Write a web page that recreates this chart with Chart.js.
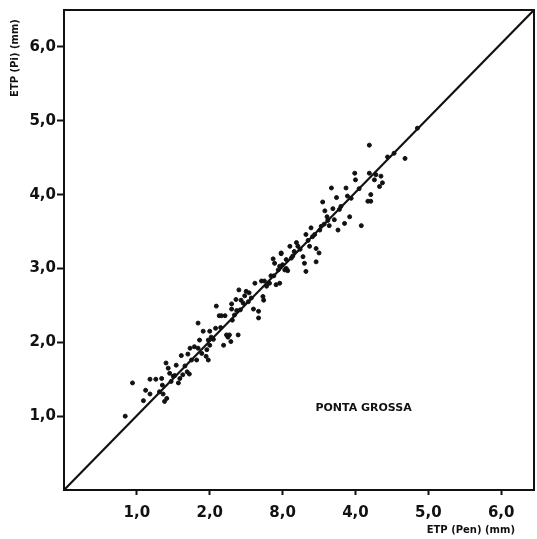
<!DOCTYPE html>
<html>
<head>
<meta charset="utf-8">
<script src="https://cdn.jsdelivr.net/npm/chart.js@4.4.1/dist/chart.umd.min.js"></script>
<style>
  html, body { margin: 0; padding: 0; background: #fff; }
  #wrap { width: 537px; height: 539px; }
</style>
</head>
<body>
<div id="wrap"><canvas id="chart" width="537" height="539"></canvas></div>
<script>
// ETP (Penman) vs ETP (Pi), Ponta Grossa
const etpPen = [
  0.84, 0.94, 1.09, 1.12, 1.18, 1.18, 1.26, 1.34, 1.35, 1.36, 1.38, 1.41, 1.40, 1.43, 1.45,
  1.47, 1.50, 1.54, 1.57, 1.61, 1.59, 1.63, 1.69, 1.70, 1.72, 1.73, 1.75, 1.79, 1.82, 1.84,
  1.84, 1.86, 1.89, 1.91, 1.95, 1.96, 1.98, 1.98, 2.00, 2.00, 2.02, 2.08, 2.09, 2.13, 2.15,
  2.16, 2.19, 2.21, 2.23, 2.25, 2.27, 2.29, 2.30, 2.30, 2.31, 2.34, 2.36, 2.37, 2.39, 2.40,
  2.43, 2.46, 2.48, 2.50, 2.54, 2.57, 2.60, 2.62, 2.67, 2.67, 2.71, 2.73, 2.74, 2.78, 2.82,
  2.84, 2.87, 2.89, 2.91, 2.94, 2.96, 2.98, 3.00, 3.03, 3.05, 3.07, 3.16, 2.75, 2.96, 2.98,
  3.05, 3.10, 3.12, 3.19, 3.21, 3.28, 3.30, 3.32, 3.32, 3.37, 3.39, 3.41, 3.46, 3.46, 3.50,
  3.51, 3.53, 3.55, 3.58, 3.61, 3.64, 3.67, 3.69, 3.71, 3.74, 3.76, 3.80, 3.85, 3.87, 3.89,
  3.92, 3.94, 3.99, 4.00, 4.08, 4.17, 4.19, 4.21, 4.21, 4.19, 4.26, 4.28, 4.33, 4.35, 4.37,
  4.44, 4.53, 4.68, 4.85,
  1.31, 1.52, 1.66, 2.05, 2.42, 2.53, 2.88, 3.14, 3.24, 3.35, 3.44, 3.57, 3.62, 3.78, 4.05,
];
const etpPi = [
  1.00, 1.45, 1.21, 1.35, 1.30, 1.50, 1.50, 1.51, 1.42, 1.30, 1.20, 1.24, 1.72, 1.65, 1.58,
  1.47, 1.54, 1.69, 1.45, 1.82, 1.51, 1.56, 1.60, 1.84, 1.57, 1.92, 1.76, 1.94, 1.76, 2.26,
  1.92, 2.03, 1.85, 2.15, 1.81, 1.90, 2.03, 1.76, 1.96, 2.15, 2.07, 2.19, 2.49, 2.36, 2.20,
  2.36, 1.96, 2.36, 2.10, 2.07, 2.10, 2.01, 2.45, 2.52, 2.30, 2.37, 2.58, 2.43, 2.10, 2.71,
  2.57, 2.53, 2.63, 2.69, 2.67, 2.60, 2.45, 2.80, 2.42, 2.33, 2.83, 2.62, 2.57, 2.76, 2.80,
  2.90, 3.13, 3.07, 2.78, 2.98, 2.80, 3.20, 3.05, 2.98, 3.12, 2.97, 3.23, 2.83, 3.03, 3.21,
  3.00, 3.30, 3.14, 3.35, 3.30, 3.16, 3.07, 2.96, 3.46, 3.30, 3.55, 3.43, 3.27, 3.09, 3.21,
  3.52, 3.57, 3.90, 3.78, 3.70, 3.58, 4.09, 3.81, 3.66, 3.96, 3.52, 3.84, 3.61, 4.09, 3.98,
  3.70, 3.95, 4.29, 4.20, 3.58, 3.91, 4.29, 4.00, 3.91, 4.67, 4.20, 4.27, 4.11, 4.25, 4.16,
  4.51, 4.56, 4.49, 4.90,
  1.33, 1.55, 1.68, 2.04, 2.44, 2.55, 2.90, 3.17, 3.26, 3.38, 3.46, 3.60, 3.65, 3.80, 4.08,
];

// 1:1 reference line, drawn corner to corner
const lineX = [0, 6.45];
const lineY = [0, 6.5];

const tickValues = [1, 2, 3, 4, 5, 6];
const xTickLabels = ["1,0", "2,0", "8,0", "4,0", "5,0", "6,0"];
const yTickLabels = ["1,0", "2,0", "3,0", "4,0", "5,0", "6,0"];

const INK = "#111";
const tickFont = { family: "DejaVu Sans", weight: "bold", size: 15 };

const points = etpPen.map((x, i) => ({ x, y: etpPi[i] }));
const diag = lineX.map((x, i) => ({ x, y: lineY[i] }));

// frame + axis titles + station name
const decor = {
  id: "decor",
  afterDatasetsDraw(chart) {
    const { ctx, chartArea: a, scales } = chart;
    ctx.save();
    ctx.strokeStyle = INK;
    ctx.lineWidth = 2;
    ctx.strokeRect(a.left, a.top, a.right - a.left, a.bottom - a.top);

    ctx.fillStyle = INK;
    ctx.font = "bold 10px 'DejaVu Sans'";
    ctx.textBaseline = "middle";
    ctx.textAlign = "right";
    ctx.fillText("ETP (Pen) (mm)", 515, 530);

    ctx.save();
    ctx.translate(15, 58);
    ctx.rotate(-Math.PI / 2);
    ctx.textAlign = "center";
    ctx.fillText("ETP (Pi) (mm)", 0, 0);
    ctx.restore();

    ctx.font = "bold 11px 'DejaVu Sans'";
    ctx.textAlign = "left";
    ctx.fillText("PONTA GROSSA", scales.x.getPixelForValue(3.45), scales.y.getPixelForValue(1.11));
    ctx.restore();
  },
};

new Chart(document.getElementById("chart"), {
  type: "scatter",
  data: {
    datasets: [
      { data: points, backgroundColor: INK, borderColor: INK, pointRadius: 2, pointHoverRadius: 2 },
      { type: "line", data: diag, borderColor: INK, borderWidth: 2.2, pointRadius: 0, fill: false },
    ],
  },
  options: {
    responsive: false,
    animation: false,
    layout: { padding: { top: 10, right: 2, left: 0, bottom: 0 } },
    plugins: { legend: { display: false }, tooltip: { enabled: false } },
    scales: {
      x: {
        type: "linear", min: 0, max: 6.45,
        afterBuildTicks: (s) => { s.ticks = tickValues.map((v) => ({ value: v })); },
        afterFit: (s) => { s.height = 49; },
        grid: { drawOnChartArea: false, drawTicks: true, tickLength: 5, tickColor: INK, tickWidth: 2 },
        border: { display: false },
        ticks: { color: INK, font: tickFont, padding: 9, maxRotation: 0,
                 callback: (v) => xTickLabels[tickValues.indexOf(v)] ?? "" },
      },
      y: {
        type: "linear", min: 0, max: 6.5,
        afterBuildTicks: (s) => { s.ticks = tickValues.map((v) => ({ value: v })); },
        afterFit: (s) => { s.width = 64; },
        grid: { drawOnChartArea: false, drawTicks: true, tickLength: 7, tickColor: INK, tickWidth: 2 },
        border: { display: false },
        ticks: { color: INK, font: tickFont, padding: 1,
                 callback: (v) => yTickLabels[tickValues.indexOf(v)] ?? "" },
      },
    },
  },
  plugins: [decor],
});
</script>
</body>
</html>
